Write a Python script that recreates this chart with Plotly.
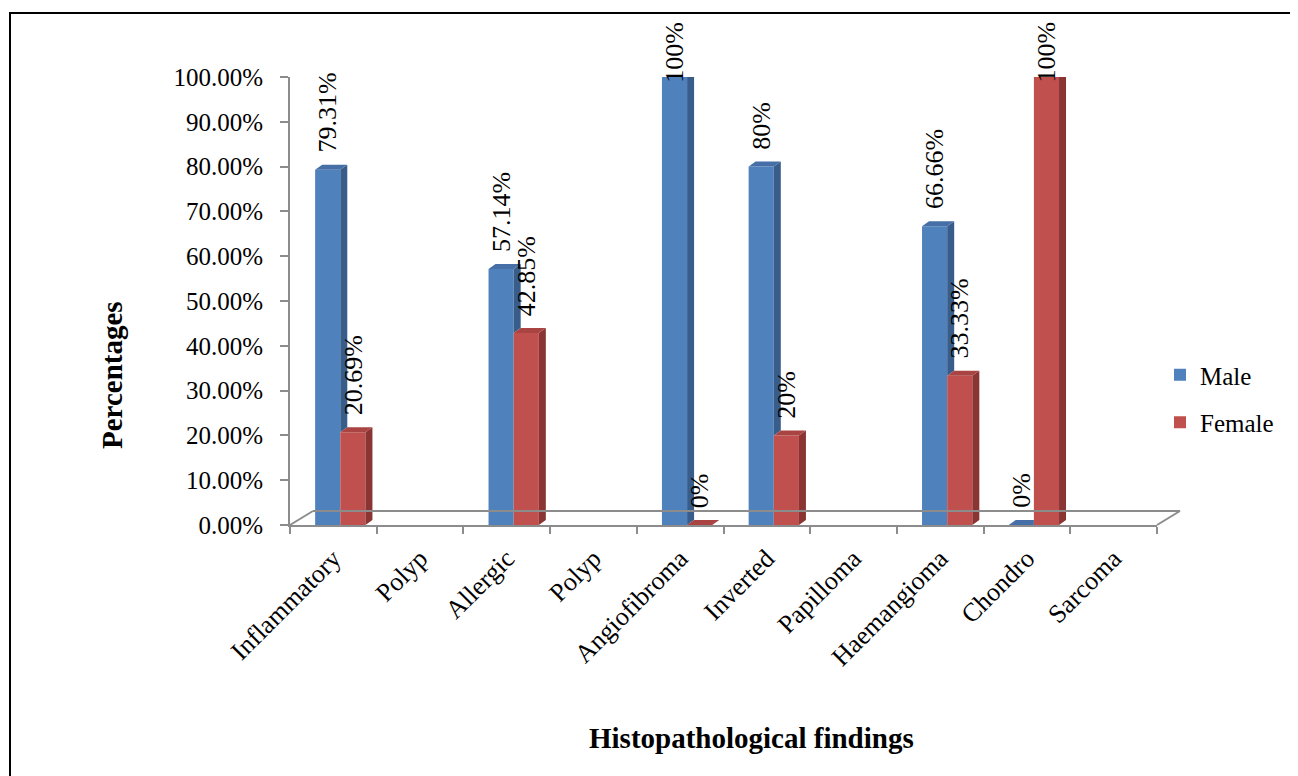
import plotly.graph_objects as go

# ---------------- data ----------------
categories = ["Inflammatory", "Polyp", "Allergic", "Polyp", "Angiofibroma",
              "Inverted", "Papilloma", "Haemangioma", "Chondro", "Sarcoma"]
male = [79.31, None, 57.14, None, 100, 80, None, 66.66, 0, None]
female = [20.69, None, 42.85, None, 0, 20, None, 33.33, 100, None]
y_ticks = [0, 10, 20, 30, 40, 50, 60, 70, 80, 90, 100]
y_ticktext = [f"{v:.2f}%" for v in y_ticks]

# ---------------- style ----------------
FONT = "Liberation Serif, Times New Roman, serif"
BLUE, BLUE_SIDE, BLUE_TOP = "#4F81BD", "#385D8A", "#456FA6"
RED, RED_SIDE, RED_TOP = "#C0504D", "#8A3533", "#A94442"
GREY = "#8C8C8C"

PAGE = 8                      # default body margin of the html page
W_FIG, H_FIG = 1298 - PAGE, 776 - PAGE
L, T = 290 - PAGE, 77 - PAGE
plot_w, plot_h = 867, 448
R = W_FIG - L - plot_w
B = H_FIG - T - plot_h


def px(xp):   # page pixel -> paper x
    return (xp - PAGE - L) / plot_w


def py(yp):   # page pixel -> paper y
    return (H_FIG - B - (yp - PAGE)) / plot_h


n = len(categories)
XR = [-0.5, n - 0.5]
YR = [0, 100]
UX = plot_w / (XR[1] - XR[0])      # px per x unit
UY = plot_h / (YR[1] - YR[0])      # px per y unit
DX, DY = 7 / UX, 5 / UY            # bar depth
BW = 0.29
OFF_M, OFF_F = -0.21, 0.08
LABEL_SIZE = 26

xs = list(range(n))

fig = go.Figure()
fig.add_trace(go.Bar(x=xs, y=male, name="Male", marker=dict(color=BLUE, line=dict(width=0)),
                     width=BW, offset=OFF_M, legendgroup="m", hoverinfo="y"))
fig.add_trace(go.Bar(x=xs, y=female, name="Female", marker=dict(color=RED, line=dict(width=0)),
                     width=BW, offset=OFF_F, legendgroup="f", hoverinfo="y"))

# 3D faces derived from the data
m_side_x, m_side_y, m_top_x, m_top_y = [], [], [], []
f_side_x, f_side_y, f_top_x, f_top_y = [], [], [], []
for i, (m, f) in enumerate(zip(male, female)):
    if m is not None:
        xl = i + OFF_M
        xr = xl + BW
        fv = f if f is not None else 0
        if fv < m:
            m_side_x += [xr, xr, xr + DX, xr + DX, None]
            m_side_y += [fv, m, m + DY, fv + DY, None]
            m_top_x += [xl, xr, xr + DX, xl + DX, None]
            m_top_y += [m, m, m + DY, m + DY, None]
        else:
            m_top_x += [xl, xr, xr, xl + DX, None]
            m_top_y += [m, m, m + DY, m + DY, None]
    if f is not None:
        xl = i + OFF_F
        xr = xl + BW
        f_side_x += [xr, xr, xr + DX, xr + DX, None]
        f_side_y += [0, f, f + DY, DY, None]
        f_top_x += [xl, xr, xr + DX, xl + DX, None]
        f_top_y += [f, f, f + DY, f + DY, None]

for xx, yy, col in [(m_side_x, m_side_y, BLUE_SIDE), (m_top_x, m_top_y, BLUE_TOP),
                    (f_side_x, f_side_y, RED_SIDE), (f_top_x, f_top_y, RED_TOP)]:
    fig.add_trace(go.Scatter(x=xx, y=yy, mode="lines", fill="toself", fillcolor=col,
                             line=dict(width=0, color=col), showlegend=False,
                             hoverinfo="skip", cliponaxis=False))


# value labels (vertical), kept inside the chart area like the original
def label_len(s):
    w = {".": 0.25, "%": 0.833}
    return LABEL_SIZE * sum(w.get(c, 0.5) for c in s)


annotations = []
for vals, off in [(male, OFF_M), (female, OFF_F)]:
    for i, v in enumerate(vals):
        if v is None:
            continue
        s = f"{v:g}%"
        bar_top_px = T + PAGE + (YR[1] - v) * UY
        shift = min(15, bar_top_px - 24 - label_len(s))
        annotations.append(dict(x=i + off + BW / 2, y=v, xref="x", yref="y", text=s,
                                textangle=-90, showarrow=False, xanchor="center",
                                yanchor="bottom", yshift=shift,
                                font=dict(family=FONT, size=LABEL_SIZE, color="black")))

annotations += [
    dict(text="<b>Percentages</b>", xref="paper", yref="paper",
         x=px(112), y=py(375), textangle=-90,
         showarrow=False, xanchor="center", yanchor="middle",
         font=dict(family=FONT, size=29, color="black")),
    dict(text="<b>Histopathological findings</b>", xref="paper", yref="paper",
         x=px(751), y=py(738),
         showarrow=False, xanchor="center", yanchor="middle",
         font=dict(family=FONT, size=29, color="black")),
]

# floor (decoration) in paper coordinates
FDX, FDY = 23 / plot_w, 14 / plot_h
shapes = [
    dict(type="line", xref="paper", yref="paper", x0=0, y0=0, x1=FDX, y1=FDY,
         line=dict(color=GREY, width=2)),
    dict(type="line", xref="paper", yref="paper", x0=FDX, y0=FDY, x1=1 + FDX, y1=FDY,
         line=dict(color=GREY, width=2)),
    dict(type="line", xref="paper", yref="paper", x0=1, y0=0, x1=1 + FDX, y1=FDY,
         line=dict(color=GREY, width=2)),
    # outer frame
    dict(type="rect", xref="paper", yref="paper",
         x0=px(10), x1=2.0, y0=-2.0, y1=py(13),
         line=dict(color="black", width=2), layer="above"),
]

fig.update_layout(
    width=W_FIG, height=H_FIG,
    margin=dict(l=L, r=R, t=T, b=B, autoexpand=False),
    paper_bgcolor="white", plot_bgcolor="white",
    barmode="overlay",
    font=dict(family=FONT, size=25, color="black"),
    shapes=shapes,
    annotations=annotations,
    showlegend=True,
    legend=dict(x=px(1160), y=py(352),
                xanchor="left", yanchor="top", font=dict(family=FONT, size=25),
                traceorder="grouped", tracegroupgap=12, itemwidth=30,
                bgcolor="rgba(0,0,0,0)"),
    xaxis=dict(range=XR, tickmode="array", tickvals=xs, ticktext=categories,
               tickangle=-45, ticks="", showline=True, linecolor=GREY, linewidth=2,
               showgrid=False, zeroline=False, tickfont=dict(family=FONT, size=26),
               ticklabelstandoff=6,
               minor=dict(tickmode="array", tickvals=[x - 0.5 for x in xs] + [n - 0.5],
                          ticks="outside", ticklen=7, tickcolor=GREY, tickwidth=2,
                          showgrid=False)),
    yaxis=dict(range=YR, tickmode="array", tickvals=y_ticks, ticktext=y_ticktext,
               ticks="outside", ticklen=8, tickcolor=GREY, tickwidth=2,
               showline=True, linecolor=GREY, linewidth=2, showgrid=False,
               zeroline=False, tickfont=dict(family=FONT, size=25),
               ticklabelstandoff=12),
)

fig.write_html("out.html")
